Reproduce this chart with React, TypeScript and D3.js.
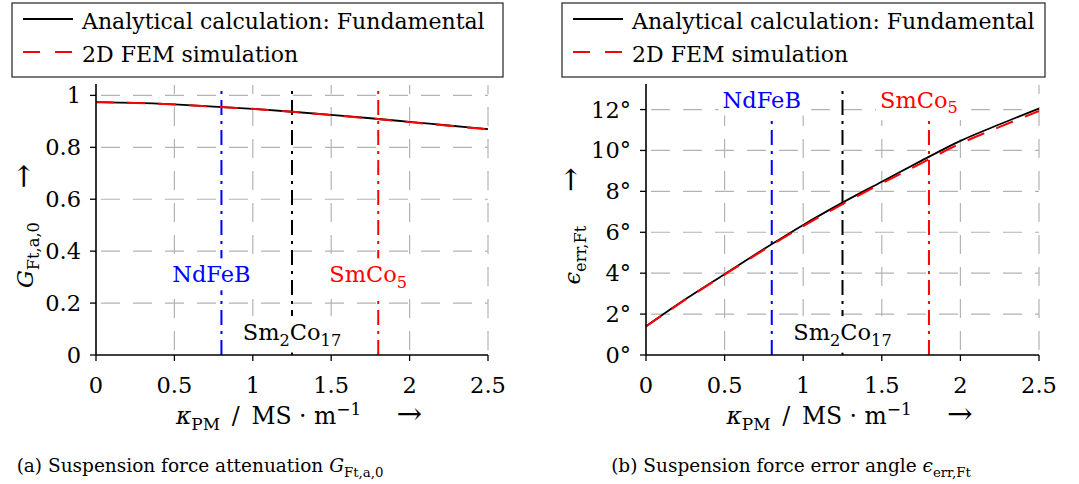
import React, { useEffect, useRef } from 'react';
import * as d3 from 'd3';

// conductivity of the permanent magnet in MS/m
const kappa = [0, 0.25, 0.5, 0.75, 1, 1.25, 1.5, 1.75, 2, 2.25, 2.5];

// (a) suspension force attenuation
const gainAnalytical = [0.974, 0.971, 0.965, 0.957, 0.948, 0.937, 0.925, 0.912, 0.898, 0.884, 0.870];
const gainFem = [0.974, 0.971, 0.965, 0.957, 0.948, 0.937, 0.924, 0.911, 0.897, 0.883, 0.869];

// (b) suspension force error angle in degrees
const angleAnalytical = [1.4, 2.72, 3.95, 5.18, 6.36, 7.45, 8.47, 9.49, 10.47, 11.28, 12.05];
const angleFem = [1.4, 2.7, 3.93, 5.14, 6.3, 7.38, 8.39, 9.37, 10.34, 11.15, 11.93];

const xTicks = [0, 0.5, 1, 1.5, 2, 2.5];
const gainTicks = [0, 0.2, 0.4, 0.6, 0.8, 1];
const angleTicks = [0, 2, 4, 6, 8, 10, 12];

const materialNames = ['NdFeB', 'Sm2Co17', 'SmCo5'];
const materialKappa = [0.8, 1.25, 1.8];
const materialColors = ['#0000ff', '#000000', '#ff0000'];

const legendLabels = ['Analytical calculation: Fundamental', '2D FEM simulation'];

const FONT = "'DejaVu Serif', serif";
const FS = 22.5;

type Part = { t: string; sub?: boolean; sup?: boolean; it?: boolean; big?: boolean };

// writes a bit of math-ish text as tspans
function richText(sel: any, parts: Part[], size: number) {
  let shift = 0;
  parts.forEach((p) => {
    const target = p.sub ? size * 0.25 : p.sup ? -size * 0.4 : 0;
    const fs = p.sub || p.sup ? size * 0.72 : p.big ? size * 1.3 : size;
    const ts = sel.append('tspan')
      .attr('dy', target - shift)
      .style('font-size', fs + 'px')
      .text(p.t);
    if (p.it) ts.style('font-style', 'italic');
    shift = target;
  });
}

function materialParts(name: string): Part[] {
  if (name === 'Sm2Co17') return [{ t: 'Sm' }, { t: '2', sub: true }, { t: 'Co' }, { t: '17', sub: true }];
  if (name === 'SmCo5') return [{ t: 'SmCo' }, { t: '5', sub: true }];
  return [{ t: name }];
}

const App = () => {
  const svgRef = useRef<SVGSVGElement>(null);

  useEffect(() => {
    const svg = d3.select(svgRef.current);
    svg.selectAll('*').remove();

    const panels = [
      {
        left: 96, right: 488, legendX: 12, legendW: 491,
        yMax: 1.04, yTicks: gainTicks, fmt: (d: number) => String(d),
        ana: gainAnalytical, fem: gainFem,
        labelY: [0.28, 0.058, 0.28],
        yLabel: [{ t: 'G', it: true }, { t: 'Ft,a,0', sub: true }, { t: '\u2003\u2002' }, { t: '\u2192', big: true }] as Part[],
        yLabelX: 33,
        captionX: 200,
        caption: [{ t: '(a) Suspension force attenuation ' }, { t: 'G', it: true }, { t: 'Ft,a,0', sub: true }] as Part[],
      },
      {
        left: 646, right: 1039, legendX: 562, legendW: 483,
        yMax: 13.2, yTicks: angleTicks, fmt: (d: number) => d + '\u00b0',
        ana: angleAnalytical, fem: angleFem,
        labelY: [12.1, 0.73, 12.1],
        yLabel: [{ t: '\u03f5', it: true }, { t: 'err,Ft', sub: true }, { t: '\u2003\u2002' }, { t: '\u2192', big: true }] as Part[],
        yLabelX: 580,
        captionX: 791,
        caption: [{ t: '(b) Suspension force error angle ' }, { t: '\u03f5', it: true }, { t: 'err,Ft', sub: true }] as Part[],
      },
    ];

    const top = 85;
    const bottom = 355;

    panels.forEach((p) => {
      const x = d3.scaleLinear().domain([0, 2.5]).range([p.left, p.right]);
      const y = d3.scaleLinear().domain([0, p.yMax]).range([bottom, top]);
      const g = svg.append('g').style('font-family', FONT);

      // grid
      g.append('g').selectAll('line').data(xTicks.slice(1)).join('line')
        .attr('x1', (d) => x(d)).attr('x2', (d) => x(d))
        .attr('y1', bottom).attr('y2', top)
        .attr('stroke', '#b3b3b3').attr('stroke-width', 1.2)
        .attr('stroke-dasharray', '19 13').attr('stroke-dashoffset', -5);
      g.append('g').selectAll('line').data(p.yTicks.slice(1)).join('line')
        .attr('x1', p.left).attr('x2', p.right)
        .attr('y1', (d) => y(d)).attr('y2', (d) => y(d))
        .attr('stroke', '#b3b3b3').attr('stroke-width', 1.2)
        .attr('stroke-dasharray', '19 13').attr('stroke-dashoffset', -5);

      // material lines
      g.append('g').selectAll('line').data(materialKappa).join('line')
        .attr('x1', (d) => x(d)).attr('x2', (d) => x(d))
        .attr('y1', bottom).attr('y2', top)
        .attr('stroke', (_d, i) => materialColors[i]).attr('stroke-width', 2)
        .attr('stroke-dasharray', '15 6 3 6');

      // material labels with white boxes
      materialNames.forEach((name, i) => {
        const lg = g.append('g');
        const dx = name === 'Sm2Co17' ? 0 : -10;
        const t = lg.append('text')
          .attr('x', x(materialKappa[i]) + dx)
          .attr('y', y(p.labelY[i]))
          .attr('text-anchor', 'middle')
          .attr('fill', materialColors[i])
          .style('font-size', FS + 'px');
        richText(t, materialParts(name), FS);
        const bb = (t.node() as SVGTextElement).getBBox();
        lg.insert('rect', 'text')
          .attr('x', bb.x - 4).attr('y', bb.y - 3)
          .attr('width', bb.width + 8).attr('height', bb.height + 6)
          .attr('fill', '#fff');
      });

      // curves
      const line = d3.line<number>()
        .x((_d, i) => x(kappa[i]))
        .y((d) => y(d))
        .curve(d3.curveMonotoneX);
      g.append('path').attr('d', line(p.ana)).attr('fill', 'none')
        .attr('stroke', '#000').attr('stroke-width', 1.8);
      g.append('path').attr('d', line(p.fem)).attr('fill', 'none')
        .attr('stroke', '#ff0000').attr('stroke-width', 2)
        .attr('stroke-dasharray', '18 13');

      // axes
      g.append('line').attr('x1', p.left).attr('x2', p.left).attr('y1', bottom).attr('y2', top - 1)
        .attr('stroke', '#000').attr('stroke-width', 1.6);
      g.append('line').attr('x1', p.left).attr('x2', p.right).attr('y1', bottom).attr('y2', bottom)
        .attr('stroke', '#000').attr('stroke-width', 1.6);
      g.append('g').selectAll('line').data(p.yTicks).join('line')
        .attr('x1', p.left - 6).attr('x2', p.left)
        .attr('y1', (d) => y(d)).attr('y2', (d) => y(d))
        .attr('stroke', '#000').attr('stroke-width', 1.3);
      g.append('g').selectAll('line').data(xTicks).join('line')
        .attr('x1', (d) => x(d)).attr('x2', (d) => x(d))
        .attr('y1', bottom).attr('y2', bottom + 6)
        .attr('stroke', '#000').attr('stroke-width', 1.3);

      g.append('g').selectAll('text').data(p.yTicks).join('text')
        .attr('x', p.left - 15).attr('y', (d) => y(d) + 8)
        .attr('text-anchor', 'end').style('font-size', FS + 'px')
        .text((d) => p.fmt(d));
      g.append('g').selectAll('text').data(xTicks).join('text')
        .attr('x', (d) => x(d)).attr('y', 393)
        .attr('text-anchor', 'middle').style('font-size', FS + 'px')
        .text((d) => String(d));

      // axis titles
      const xt = g.append('text').attr('x', (p.left + p.right) / 2 + 7).attr('y', 424)
        .attr('text-anchor', 'middle').style('font-size', '23.5px');
      richText(xt, [
        { t: '\u03ba', it: true }, { t: 'PM', sub: true }, { t: '\u2002/\u2002MS \u00b7 m' },
        { t: '\u22121', sup: true }, { t: '\u2003\u2002' }, { t: '\u2192', big: true },
      ], 23.5);
      const yt = g.append('text')
        .attr('transform', `translate(${p.yLabelX},${(top + bottom) / 2 + 6}) rotate(-90)`)
        .attr('text-anchor', 'middle').style('font-size', FS + 'px');
      richText(yt, p.yLabel, FS);

      // caption
      const ct = g.append('text').attr('x', p.captionX).attr('y', 472)
        .attr('text-anchor', 'middle').style('font-size', '18.5px');
      richText(ct, p.caption, 18.5);

      // legend
      const lg = g.append('g');
      lg.append('rect').attr('x', p.legendX).attr('y', 3).attr('width', p.legendW).attr('height', 74)
        .attr('fill', '#fff').attr('stroke', '#333').attr('stroke-width', 1.3);
      legendLabels.forEach((lab, i) => {
        const ly = 19 + i * 33;
        lg.append('line').attr('x1', p.legendX + 11).attr('x2', p.legendX + 61)
          .attr('y1', ly).attr('y2', ly)
          .attr('stroke', i === 0 ? '#000' : '#ff0000').attr('stroke-width', 2)
          .attr('stroke-dasharray', i === 0 ? null : '17 15');
        lg.append('text').attr('x', p.legendX + 70).attr('y', ly + 10)
          .style('font-size', '22px').text(lab);
      });
    });
  }, []);

  return <svg ref={svgRef} width={1079} height={484} style={{ position: 'absolute', left: 0, top: 0 }} />;
};

export default App;
